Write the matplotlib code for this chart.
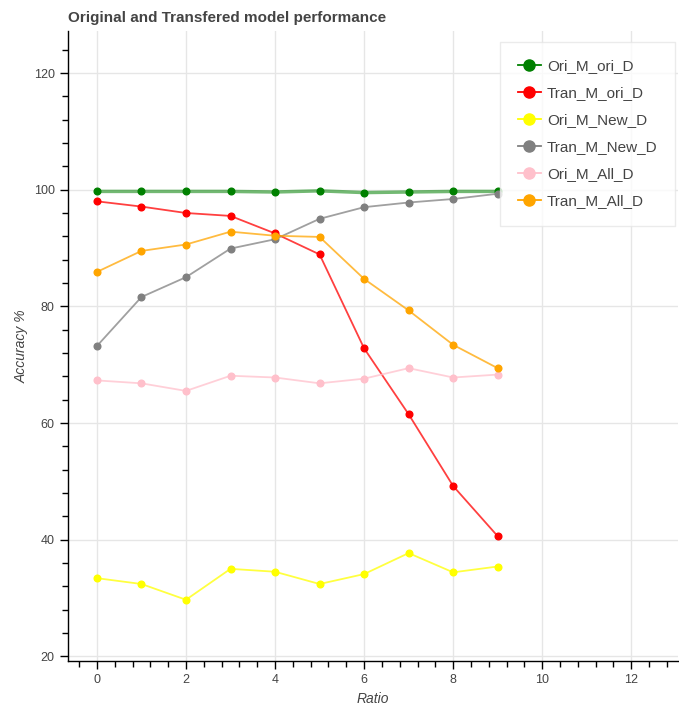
import matplotlib.pyplot as plt
from matplotlib.ticker import MultipleLocator

ratio = list(range(10))

ori_m_ori_d = [99.7, 99.7, 99.7, 99.7, 99.6, 99.8, 99.5, 99.6, 99.7, 99.7]
tran_m_ori_d = [98.0, 97.1, 96.0, 95.5, 92.5, 88.9, 72.8, 61.5, 49.2, 40.6]
ori_m_new_d = [33.4, 32.4, 29.7, 35.0, 34.5, 32.4, 34.1, 37.7, 34.4, 35.4]
tran_m_new_d = [73.2, 81.6, 85.0, 89.9, 91.5, 95.0, 97.0, 97.8, 98.4, 99.3]
ori_m_all_d = [67.3, 66.8, 65.5, 68.1, 67.8, 66.8, 67.6, 69.4, 67.8, 68.3]
tran_m_all_d = [85.9, 89.5, 90.6, 92.8, 92.1, 91.9, 84.7, 79.3, 73.4, 69.4]

series = [
    ("Ori_M_ori_D", ori_m_ori_d, "green"),
    ("Tran_M_ori_D", tran_m_ori_d, "red"),
    ("Ori_M_New_D", ori_m_new_d, "yellow"),
    ("Tran_M_New_D", tran_m_new_d, "gray"),
    ("Ori_M_All_D", ori_m_all_d, "pink"),
    ("Tran_M_All_D", tran_m_all_d, "orange"),
]

plt.rcParams["font.family"] = ["Liberation Sans", "DejaVu Sans"]
TXT = "#444444"

fig = plt.figure(figsize=(6.79, 7.06), dpi=100)
ax = fig.add_axes([68 / 679, 45 / 706, 610 / 679, 630 / 706])

for name, vals, col in series:
    lw = 2.5 if col == "green" else 1.3
    ax.plot(ratio, vals, color=col, lw=lw, alpha=0.55 if col == "green" else 0.75, zorder=2)
    ax.plot(ratio, vals, color=col, lw=0, marker="o", ms=4.8, zorder=3)
    # legend proxy
    ax.plot([], [], color=col, lw=1.3, marker="o", ms=8, label=name)

ax.set_xlim(-0.65, 13.05)
ax.set_ylim(19.2, 127.2)
ax.xaxis.set_major_locator(MultipleLocator(2))
ax.xaxis.set_minor_locator(MultipleLocator(0.4))
ax.yaxis.set_major_locator(MultipleLocator(20))
ax.yaxis.set_minor_locator(MultipleLocator(4))

ax.grid(True, which="major", color="#e6e6e6", lw=1, zorder=0)
ax.set_axisbelow(True)
for s in ["top", "right"]:
    ax.spines[s].set_visible(False)
for s in ["left", "bottom"]:
    ax.spines[s].set_color("black")
    ax.spines[s].set_linewidth(1)
ax.tick_params(which="major", length=6, width=1, color="black", labelsize=9, labelcolor=TXT)
ax.tick_params(which="minor", length=4, width=1, color="black")

ax.set_xlabel("Ratio", fontsize=10, style="italic", color=TXT, labelpad=4)
ax.set_ylabel("Accuracy %", fontsize=10, style="italic", color=TXT, labelpad=4)
fig.text(68 / 679, 1 - 18 / 706, "Original and Transfered model performance",
         fontsize=11, fontweight="bold", color=TXT, va="center", ha="left")

leg = ax.legend(loc="upper right", bbox_to_anchor=(0.995, 0.983), borderaxespad=0,
                fontsize=11, frameon=True, fancybox=False, labelspacing=0.85,
                handlelength=1.5, borderpad=1.15, handletextpad=0.4)
leg.get_frame().set_edgecolor("#e6e6e6")
leg.get_frame().set_linewidth(1)
for t in leg.get_texts():
    t.set_color(TXT)

fig.savefig("out.png", dpi=100)
